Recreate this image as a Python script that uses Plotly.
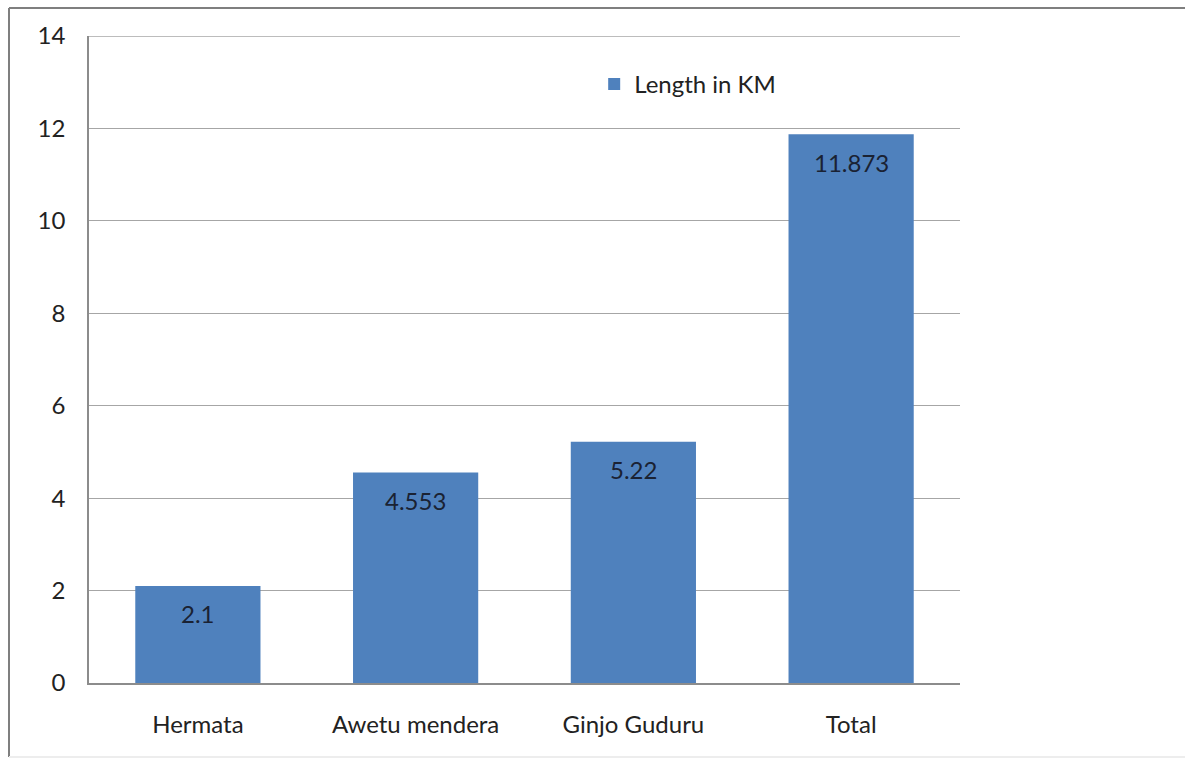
import plotly.graph_objects as go

# Road segments and their lengths (km)
segments = ["Hermata", "Awetu mendera", "Ginjo Guduru", "Total"]
length_km = [2.1, 4.553, 5.22, 11.873]
y_ticks = [0, 2, 4, 6, 8, 10, 12, 14]

bar_color = "#4F81BD"
text_color = "#222222"
grid_color = "#A6A6A6"
font_family = "Lato, 'Open Sans', sans-serif"
font_size = 24

fig = go.Figure()
fig.add_trace(go.Bar(
    x=segments,
    y=length_km,
    name="Length in KM",
    marker=dict(color=bar_color, line=dict(width=0)),
    showlegend=True,
))

# Value labels sitting just below the top of each bar
for seg, val in zip(segments, length_km):
    fig.add_annotation(
        x=seg, y=val, text=f"{val:g}", showarrow=False,
        yanchor="middle", yshift=-28,
        font=dict(family=font_family, size=font_size, color="#1A2233"),
    )

px_w, px_h = 871, 647  # plot-area size in pixels
fig.update_layout(
    width=1185, height=760,
    margin=dict(l=89, r=225, t=36, b=77),
    paper_bgcolor="white", plot_bgcolor="white",
    bargap=0.425,
    font=dict(family=font_family, size=font_size, color=text_color),
    legend=dict(
        x=0.58, y=0.96, xanchor="left", yanchor="top",
        bgcolor="rgba(0,0,0,0)", font=dict(size=font_size, color=text_color),
        itemwidth=30,
    ),
    xaxis=dict(
        showgrid=False, showline=True, linecolor="#8C8C8C", linewidth=1.5,
        ticks="", ticklabelstandoff=19,
        tickfont=dict(size=font_size, color=text_color),
    ),
    yaxis=dict(
        range=[0, 14], tickvals=y_ticks, showgrid=True,
        gridcolor=grid_color, gridwidth=1.2,
        showline=True, linecolor="#8C8C8C", linewidth=1.5,
        ticks="", ticklabelstandoff=17, zeroline=False,
        tickfont=dict(size=font_size, color=text_color),
    ),
    shapes=[
        # top gridline at the axis maximum
        dict(type="line", xref="paper", yref="y", x0=0, x1=1,
             y0=y_ticks[-1], y1=y_ticks[-1],
             line=dict(color=grid_color, width=1.5)),
        # outer chart frame: left, top and faint bottom edges
        dict(type="line", xref="paper", yref="paper",
             x0=-80 / px_w, x1=-80 / px_w, y0=-74 / px_h, y1=1 + 28 / px_h,
             line=dict(color="#7F7F7F", width=2)),
        dict(type="line", xref="paper", yref="paper",
             x0=-80 / px_w, x1=1 + 230 / px_w, y0=1 + 28 / px_h, y1=1 + 28 / px_h,
             line=dict(color="#7F7F7F", width=2)),
        dict(type="line", xref="paper", yref="paper",
             x0=-80 / px_w, x1=1 + 230 / px_w, y0=-74 / px_h, y1=-74 / px_h,
             line=dict(color="#EDEDED", width=2)),
    ],
)

fig.write_html("out.html")
